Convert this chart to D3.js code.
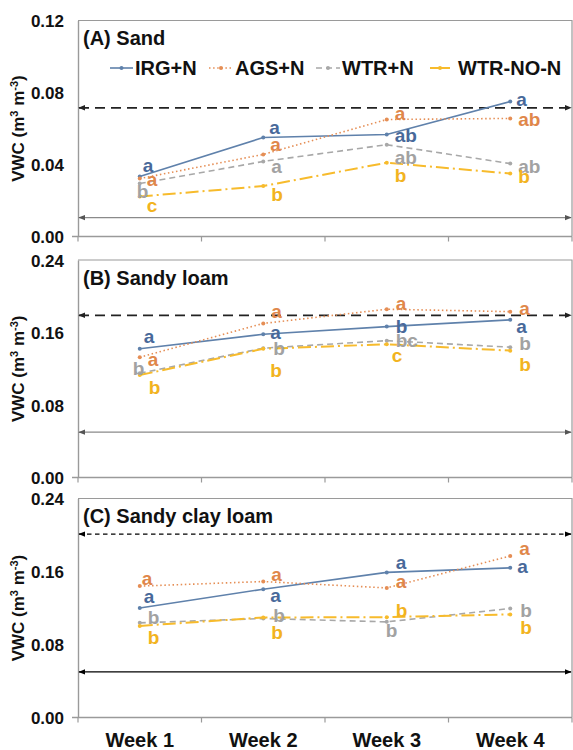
<!DOCTYPE html>
<html><head><meta charset="utf-8">
<script src="https://cdn.jsdelivr.net/npm/d3@7"></script>
<style>
html,body{margin:0;padding:0;background:#fff;}
svg{display:block;font-family:"Liberation Sans",Arial,sans-serif;}
</style></head>
<body><svg id="chart" width="573" height="750"></svg>
<script>
// ---------- DATA ----------
const weeks = ["Week 1", "Week 2", "Week 3", "Week 4"];
const seriesNames = ["IRG+N", "AGS+N", "WTR+N", "WTR-NO-N"];

const sandVWC = [
  [0.0333, 0.0550, 0.0567, 0.0750],
  [0.0322, 0.0456, 0.0650, 0.0656],
  [0.0294, 0.0417, 0.0510, 0.0405],
  [0.0222, 0.0280, 0.0410, 0.0350]
];
const sandyLoamVWC = [
  [0.142, 0.158, 0.1665, 0.174],
  [0.1327, 0.170, 0.1857, 0.183],
  [0.115, 0.1427, 0.151, 0.1438],
  [0.113, 0.142, 0.147, 0.140]
];
const sandyClayLoamVWC = [
  [0.120, 0.1406, 0.159, 0.164],
  [0.144, 0.149, 0.142, 0.177],
  [0.1037, 0.1085, 0.1048, 0.1195],
  [0.1004, 0.1096, 0.110, 0.113]
];

const sandLetters = [["a","a","ab","a"],["a","a","a","ab"],["b","a","ab","ab"],["c","b","b","b"]];
const sandyLoamLetters = [["a","a","b","a"],["a","a","a","a"],["b","b","bc","b"],["b","b","c","b"]];
const sandyClayLoamLetters = [["a","a","a","a"],["a","a","a","a"],["b","b","b","b"],["b","b","b","b"]];

// reference levels (upper dashed, lower solid)
const sandRefs = [0.0715, 0.0105];
const sandyLoamRefs = [0.179, 0.050];
const sandyClayLoamRefs = [0.201, 0.050];

const sandTicks = [0, 0.04, 0.08, 0.12];
const loamTicks = [0, 0.08, 0.16, 0.24];
const panelTitles = ["(A) Sand", "(B) Sandy loam", "(C) Sandy clay loam"];

// ---------- LAYOUT (label offsets in px, relative to points) ----------
const sandOffsets = [
  [[3,-5],[6,-4],[8,8],[6,4]],
  [[7,7],[7,-3],[8,0],[8,8]],
  [[-3,14],[8,12],[8,19],[8,9]],
  [[7,15],[8,15],[8,19],[8,9]]
];
const loamOffsets = [
  [[4,-6],[7,5],[9,6],[6,13]],
  [[8,9],[8,-5],[9,1],[9,3]],
  [[-7,2],[10,7],[9,6],[9,3]],
  [[9,19],[7,28],[5,18],[9,20]]
];
const clayOffsets = [
  [[4,-5],[7,13],[9,-3],[7,5]],
  [[2,-1],[8,-1],[9,0],[9,-1]],
  [[8,1],[10,4],[-1,15],[10,9]],
  [[8,18],[8,22],[9,0],[10,20]]
];

const lineColors = ["#5F81AB", "#E58E55", "#A8A8A8", "#F7BB2C"];
const textColors = ["#48699A", "#E0874A", "#A2A2A2", "#F2B320"];
const dashes = [null, "1.5,2.6", "6,4", "13,4,2,4"];
const widths = [1.6, 1.6, 1.6, 2];

const panels = [
  {title: panelTitles[0], data: sandVWC, letters: sandLetters, offs: sandOffsets, refs: sandRefs, ticks: sandTicks, max: 0.12, top: 20.5, bottom: 236.5, refDash: "10,6", lowColor: "#8a8a8a", legend: true},
  {title: panelTitles[1], data: sandyLoamVWC, letters: sandyLoamLetters, offs: loamOffsets, refs: sandyLoamRefs, ticks: loamTicks, max: 0.24, top: 260, bottom: 477.5, refDash: "10,6", lowColor: "#8a8a8a"},
  {title: panelTitles[2], data: sandyClayLoamVWC, letters: sandyClayLoamLetters, offs: clayOffsets, refs: sandyClayLoamRefs, ticks: loamTicks, max: 0.24, top: 498.5, bottom: 717.5, refDash: "4.5,3.5", lowColor: "#000", xlabels: true}
];

const svg = d3.select("#chart");
const left = 78, right = 572;

const defs = svg.append("defs");
function marker(id, color, dir) {
  const m = defs.append("marker").attr("id", id).attr("viewBox", "0 0 10 10")
    .attr("refX", dir === "end" ? 9 : 1).attr("refY", 5)
    .attr("markerWidth", 7).attr("markerHeight", 7).attr("markerUnits", "userSpaceOnUse")
    .attr("orient", "auto");
  m.append("path").attr("d", dir === "end" ? "M0,1L10,5L0,9Z" : "M10,1L0,5L10,9Z").attr("fill", color);
}
marker("arrEndK", "#222", "end"); marker("arrStartK", "#222", "start");
marker("arrEndG", "#555", "end"); marker("arrStartG", "#555", "start");
marker("arrEndB", "#000", "end"); marker("arrStartB", "#000", "start");

const x = d3.scaleBand().domain(weeks).range([left, right]).paddingInner(0).paddingOuter(0);
const xc = w => x(w) + x.bandwidth() / 2;

panels.forEach((p, pi) => {
  const y = d3.scaleLinear().domain([0, p.max]).range([p.bottom, p.top]);
  const g = svg.append("g");

  // frame top and right
  g.append("path").attr("d", `M${left},${p.top}H${right}V${p.bottom}`)
    .attr("fill", "none").attr("stroke", "#9a9a9a").attr("stroke-width", 1.2);

  // x axis
  const xAxis = d3.axisBottom(x).tickSize(0).tickFormat(p.xlabels ? d => d : "");
  const xg = g.append("g").attr("transform", `translate(0,${p.bottom})`).call(xAxis);
  xg.select(".domain").remove();
  g.append("line").attr("x1", left - 6).attr("x2", right).attr("y1", p.bottom).attr("y2", p.bottom)
    .attr("stroke", "#9a9a9a").attr("stroke-width", 1.4);
  const edges = weeks.map(w => x(w)).concat([right]);
  g.selectAll(".xt").data(edges).enter().append("line")
    .attr("x1", d => d).attr("x2", d => d).attr("y1", p.bottom).attr("y2", p.bottom + 5)
    .attr("stroke", "#9a9a9a").attr("stroke-width", 1.2);
  xg.selectAll("text").attr("font-size", 20).attr("font-weight", "bold").attr("fill", "#111")
    .attr("font-family", "'Liberation Sans',Arial,sans-serif").attr("dy", 0).attr("y", 29);

  // y axis
  const yAxis = d3.axisLeft(y).tickValues(p.ticks).tickSize(0).tickPadding(14).tickFormat(d3.format(".2f"));
  const yg = g.append("g").attr("transform", `translate(${left},0)`).call(yAxis);
  yg.select(".domain").attr("stroke", "#9a9a9a").attr("stroke-width", 1.4);
  yg.selectAll("text").attr("font-size", 17).attr("font-weight", "bold").attr("fill", "#111")
    .attr("font-family", "'Liberation Sans',Arial,sans-serif").attr("dy", "0.36em");

  // y label
  const ymid = (p.top + p.bottom) / 2;
  const yl = g.append("text").attr("transform", `translate(24,${ymid}) rotate(-90)`)
    .attr("text-anchor", "middle").attr("font-size", 17).attr("font-weight", "bold").attr("fill", "#111");
  yl.append("tspan").text("VWC (m");
  yl.append("tspan").attr("font-size", 11).attr("baseline-shift", "super").text("3");
  yl.append("tspan").text(" m");
  yl.append("tspan").attr("font-size", 11).attr("baseline-shift", "super").text("-3");
  yl.append("tspan").text(")");

  // title
  g.append("text").attr("x", 83).attr("y", p.top + 24.5).attr("font-size", 20).attr("font-weight", "bold")
    .attr("fill", "#111").text(p.title);

  // reference lines
  const dark = pi === 2 ? "B" : "K";
  g.append("line").attr("x1", left + 1).attr("x2", right - 1)
    .attr("y1", y(p.refs[0])).attr("y2", y(p.refs[0]))
    .attr("stroke", pi === 2 ? "#000" : "#222").attr("stroke-width", pi === 2 ? 1.3 : 1.8)
    .attr("stroke-dasharray", p.refDash)
    .attr("marker-start", `url(#arrStart${dark})`).attr("marker-end", `url(#arrEnd${dark})`);
  const low = pi === 2 ? "B" : "G";
  g.append("line").attr("x1", left + 1).attr("x2", right - 1)
    .attr("y1", y(p.refs[1])).attr("y2", y(p.refs[1]))
    .attr("stroke", p.lowColor).attr("stroke-width", 1.3)
    .attr("marker-start", `url(#arrStart${low})`).attr("marker-end", `url(#arrEnd${low})`);

  // series lines
  const line = d3.line().x((d, i) => xc(weeks[i])).y(d => y(d));
  p.data.forEach((vals, si) => {
    g.append("path").datum(vals).attr("d", line).attr("fill", "none")
      .attr("stroke", lineColors[si]).attr("stroke-width", widths[si])
      .attr("stroke-dasharray", dashes[si]);
    g.selectAll(null).data(vals).enter().append("circle")
      .attr("cx", (d, i) => xc(weeks[i])).attr("cy", d => y(d)).attr("r", 2)
      .attr("fill", lineColors[si]);
  });
  // letters
  p.data.forEach((vals, si) => {
    g.selectAll(null).data(vals).enter().append("text")
      .attr("x", (d, i) => xc(weeks[i]) + p.offs[si][i][0])
      .attr("y", (d, i) => y(d) + p.offs[si][i][1])
      .attr("font-size", 19).attr("font-weight", "bold").attr("fill", textColors[si])
      .text((d, i) => p.letters[si][i]);
  });

  // legend
  if (p.legend) {
    const items = [
      {x1: 110, x2: 133, tx: 135},
      {x1: 209, x2: 233, tx: 235},
      {x1: 316, x2: 340, tx: 342},
      {x1: 430, x2: 450, tx: 458}
    ];
    const ly = 68;
    seriesNames.forEach((n, si) => {
      const it = items[si];
      g.append("line").attr("x1", it.x1).attr("x2", it.x2).attr("y1", ly).attr("y2", ly)
        .attr("stroke", lineColors[si]).attr("stroke-width", widths[si])
        .attr("stroke-dasharray", si === 3 ? null : dashes[si]);
      g.append("circle").attr("cx", (it.x1 + it.x2) / 2).attr("cy", ly).attr("r", 2).attr("fill", lineColors[si]);
      g.append("text").attr("x", it.tx).attr("y", ly + 7).attr("font-size", 20).attr("font-weight", "bold")
        .attr("fill", "#111").text(n);
    });
  }
});
</script>
</body></html>
